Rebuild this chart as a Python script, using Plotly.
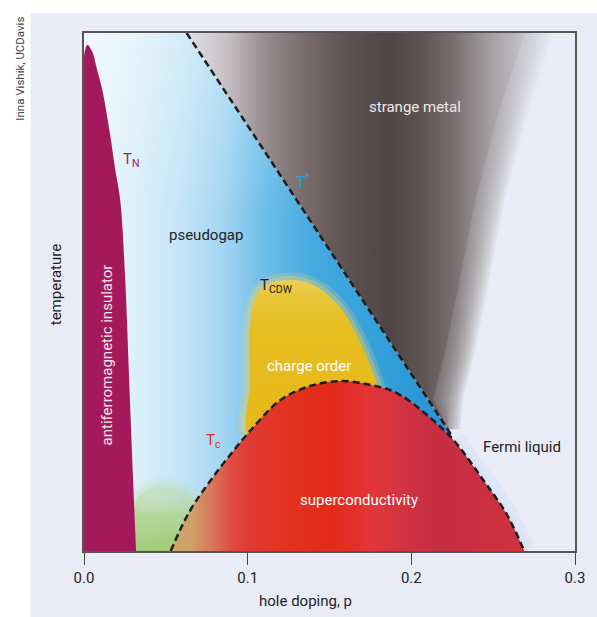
import numpy as np
import plotly.graph_objects as go

# Phase boundaries: hole doping p vs temperature (arbitrary units, 0..1)
AF_P = [0.0, 0.0021, 0.0052, 0.0076, 0.0112, 0.0155, 0.0191, 0.0221, 0.0252, 0.0276, 0.0300, 0.0318]
AF_T = [0.955, 0.977, 0.963, 0.934, 0.890, 0.813, 0.736, 0.678, 0.523, 0.330, 0.137, 0.0]

DOME_P = [0.0530, 0.0639, 0.0761, 0.0882, 0.1021, 0.1203, 0.1397, 0.1579, 0.1761, 0.1912, 0.2094,
          0.2258, 0.2439, 0.2579, 0.2690]
DOME_T = [0.0, 0.073, 0.131, 0.181, 0.234, 0.292, 0.320, 0.328, 0.320, 0.305, 0.263,
          0.214, 0.137, 0.073, 0.0]

TSTAR_P = [0.0627, 0.2245]
TSTAR_T = [1.0, 0.224]

CDW_P = [0.1021, 0.1015, 0.1015, 0.1033, 0.1076, 0.1155, 0.1276, 0.1397, 0.1506, 0.1597, 0.1682,
         0.1748, 0.1803, 0.1852]
CDW_T = [0.214, 0.330, 0.427, 0.475, 0.504, 0.519, 0.523, 0.514, 0.490, 0.456, 0.407,
         0.359, 0.311, 0.272]

# right-hand (fading) edge of the strange metal wedge
SM_EDGE_P = [0.2215, 0.2230, 0.2306, 0.2367, 0.2427, 0.2488, 0.2567, 0.2652, 0.2791]
SM_EDGE_T = [0.235, 0.292, 0.388, 0.485, 0.581, 0.678, 0.774, 0.871, 1.0]

# greenish patch between the AF region and the dome
BLOB_P = [0.0318, 0.0318, 0.0397, 0.0518, 0.0639, 0.0730, 0.0791, 0.0833]
BLOB_T = [0.0, 0.098, 0.118, 0.122, 0.108, 0.079, 0.041, 0.0]

X_TICKS = [0.0, 0.1, 0.2, 0.3]
X_TICK_LABELS = ["0.0", "0.1", "0.2", "0.3"]

FONT = "Roboto, Liberation Sans, sans-serif"
BG = "#e9ecf6"


def ramp(stops, lo, hi):
    return [[(p - lo) / (hi - lo), c] for p, c in stops]


def area(xs, ys, shape="linear", **kw):
    return go.Scatter(x=list(xs), y=list(ys), mode="lines", fill="toself",
                      line=dict(width=0, shape=shape), hoverinfo="skip",
                      showlegend=False, **kw)


def glow(xs, ys, rgb, widths, alphas, shape="spline"):
    out = []
    for w, a in zip(widths, alphas):
        out.append(go.Scatter(x=list(xs), y=list(ys), mode="lines",
                              line=dict(color=f"rgba({rgb},{a})", width=w, shape=shape),
                              hoverinfo="skip", showlegend=False))
    return out


fig = go.Figure()

# pseudogap (blue), under everything else
pg_x = [0, 0, TSTAR_P[0], TSTAR_P[1], TSTAR_P[1]]
pg_y = [0, 1, TSTAR_T[0], TSTAR_T[1], 0]
pg_lo, pg_hi = 0.0, 0.225
fig.add_trace(area(pg_x, pg_y, fillgradient=dict(
    type="horizontal", start=pg_lo, stop=pg_hi,
    colorscale=ramp([(0.0, "#eef7fd"), (0.03, "#dcf0fb"), (0.06, "#c2e4f7"),
                     (0.085, "#a2d5f2"), (0.11, "#6cbce8"), (0.14, "#44a9e0"),
                     (0.18, "#33a0da"), (0.225, "#2790d0")], pg_lo, pg_hi))))
fig.add_trace(area(pg_x, pg_y, fillgradient=dict(
    type="vertical", start=0.65, stop=1.0,
    colorscale=[[0, "rgba(255,255,255,0)"], [1, "rgba(255,255,255,0.3)"]])))

# strange metal wedge, soft right edge from stacked translucent copies
sm_lo, sm_hi = 0.06, 0.285
sm_scale = ramp([(0.06, "#e2e2e8"), (0.085, "#c8c2c6"), (0.11, "#968c8e"),
                 (0.135, "#766a6a"), (0.16, "#5c5251"), (0.185, "#504645"),
                 (0.205, "#5e5554"), (0.225, "#7a7272"), (0.245, "#a29ea0"),
                 (0.265, "#c2c0c6"), (0.285, "#dcdee8")], sm_lo, sm_hi)
edge_p = np.array(SM_EDGE_P)
edge_t = np.array(SM_EDGE_T)
tstar_at = np.interp(edge_t, TSTAR_T[::-1], TSTAR_P[::-1])
px = 0.3 / 496  # one pixel in p units
shifts = [(-16 * px, 1.0)] + [(d * px, 0.12) for d in range(-14, 16, 2)]
for shift, op in shifts:
    ep = np.maximum(edge_p + shift, tstar_at + 0.0005)
    xs = [TSTAR_P[0], tstar_at[0]] + list(ep)
    ys = [TSTAR_T[0], edge_t[0]] + list(edge_t)
    fig.add_trace(area(xs, ys, opacity=op, fillgradient=dict(
        type="horizontal", start=sm_lo, stop=sm_hi, colorscale=sm_scale)))

# charge order (yellow)
cdw_x = CDW_P + CDW_P[:1]
cdw_y = CDW_T + CDW_T[:1]
fig.add_traces(glow(cdw_x, cdw_y, "236,212,104", [15, 8], [0.22, 0.32]))
fig.add_trace(area(cdw_x, cdw_y, shape="spline", fillgradient=dict(
    type="vertical", start=0.2, stop=0.53,
    colorscale=[[0, "#e6b618"], [0.7, "#e6be20"], [0.9, "#e9c73a"], [1, "#edd264"]])))

# green patch left of the dome, fading upwards
blob_x = BLOB_P + BLOB_P[:1]
blob_y = BLOB_T + BLOB_T[:1]
fig.add_traces(glow(blob_x, blob_y, "178,212,134", [20, 10], [0.1, 0.16]))
fig.add_trace(area(blob_x, blob_y, shape="spline", fillgradient=dict(
    type="vertical", start=0.0, stop=0.125,
    colorscale=[[0, "rgba(158,202,112,0.95)"], [0.55, "rgba(170,208,126,0.75)"],
                [1, "rgba(190,218,150,0.25)"]])))

# pale halo outside the right flank of the dome
right = [i for i, p in enumerate(DOME_P) if p >= 0.2258]
fig.add_traces(glow([DOME_P[i] for i in right], [DOME_T[i] for i in right],
                    "214,226,247", [22, 10], [0.5, 0.6]))

# superconducting dome
sc_lo, sc_hi = 0.053, 0.27
fig.add_trace(area(DOME_P, DOME_T, shape="spline", fillgradient=dict(
    type="horizontal", start=sc_lo, stop=sc_hi,
    colorscale=ramp([(0.053, "#c8a866"), (0.065, "#d0a06a"), (0.078, "#d8745a"),
                     (0.09, "#e04a40"), (0.10, "#e03a32"), (0.125, "#e2321f"),
                     (0.15, "#e22a18"), (0.175, "#e2363a"), (0.195, "#d03242"),
                     (0.215, "#c52e40"), (0.245, "#cb3040"), (0.27, "#d3323a")], sc_lo, sc_hi))))

# antiferromagnetic insulator
fig.add_trace(area([0] + AF_P, [0] + AF_T, shape="spline", fillcolor="#a3195b"))

# dashed crossover / transition lines
dash = dict(color="#1e1e1e", width=2.5, dash="7px,4px")
fig.add_trace(go.Scatter(x=TSTAR_P, y=TSTAR_T, mode="lines", line=dash,
                         hoverinfo="skip", showlegend=False))
fig.add_trace(go.Scatter(x=DOME_P, y=DOME_T, mode="lines", line=dict(dash, shape="spline"),
                         hoverinfo="skip", showlegend=False))

labels = [
    ("T<sub>N</sub>", 0.0288, 0.755, "#a3195b", 0),
    ("pseudogap", 0.0748, 0.610, "#1e1e1e", 0),
    ("T<sup>*</sup>", 0.1335, 0.714, "#2b9fd9", 0),
    ("strange metal", 0.2021, 0.857, "#eee8e8", 0),
    ("T<sub>CDW</sub>", 0.1179, 0.512, "#1e1e1e", 0),
    ("charge order", 0.1373, 0.357, "#ffffff", 0),
    ("T<sub>c</sub>", 0.0791, 0.212, "#e0302c", 0),
    ("superconductivity", 0.1682, 0.098, "#ffffff", 0),
    ("Fermi liquid", 0.2676, 0.201, "#1e1e1e", 0),
    ("antiferromagnetic insulator", 0.0142, 0.378, "#f4e4ec", -90),
]
for text, x, y, color, angle in labels:
    fig.add_annotation(text=text, x=x, y=y, xref="x", yref="y", showarrow=False,
                       textangle=angle, font=dict(family=FONT, size=15, color=color))

side = dict(xref="paper", yref="paper", showarrow=False, xanchor="center", yanchor="middle")
fig.add_annotation(text="temperature", x=-0.0565, y=0.5135, textangle=-90,
                   font=dict(family=FONT, size=15, color="#1e1e1e"), **side)
fig.add_annotation(text="hole doping, p", x=0.4516, y=-0.0965,
                   font=dict(family=FONT, size=15, color="#1e1e1e"), **side)
fig.add_annotation(text="Inna Vishik, UCDavis", x=-0.131, y=0.9305, textangle=-90,
                   font=dict(family=FONT, size=11.5, color="#444"), **side)

fig.add_shape(type="rect", xref="paper", yref="paper", x0=-0.1089, x1=1.05, y0=-0.15, y1=1.0386,
              fillcolor=BG, line_width=0, layer="below")

fig.update_layout(
    width=597,
    height=617,
    margin=dict(l=84, r=17, t=33, b=66),
    paper_bgcolor="white",
    plot_bgcolor=BG,
    xaxis=dict(range=[0, 0.3], tickvals=X_TICKS, ticktext=X_TICK_LABELS, ticks="outside",
               ticklen=12, tickwidth=1.2, tickcolor="#444", showline=True, linecolor="#555",
               linewidth=1.5, mirror=True, showgrid=False, zeroline=False,
               tickfont=dict(family=FONT, size=15, color="#1e1e1e")),
    yaxis=dict(range=[0, 1], showticklabels=False, ticks="", showline=True, linecolor="#555",
               linewidth=1.5, mirror=True, showgrid=False, zeroline=False),
)

fig.write_html("out.html", config={"displayModeBar": False},
               post_script="document.body.style.margin='0';"
                           "document.body.style.overflow='hidden';")
